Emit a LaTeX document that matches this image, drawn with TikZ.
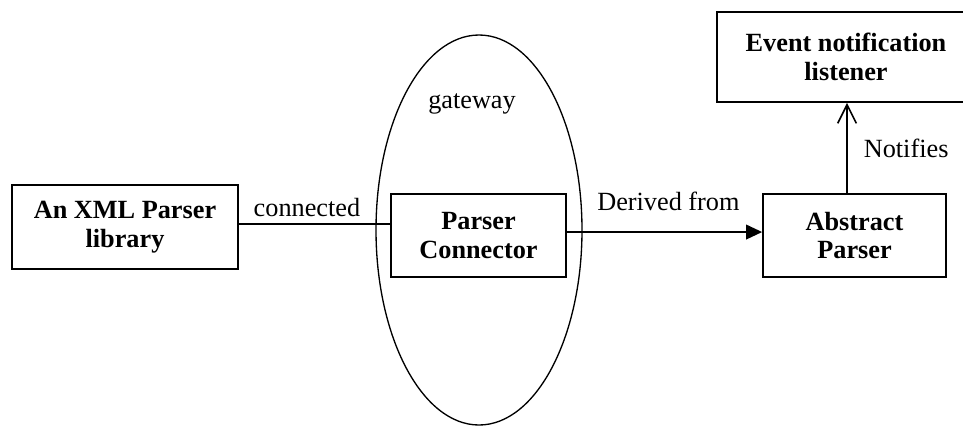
\documentclass[tikz,border=0pt]{standalone}
\usepackage{fontspec}
\setmainfont{Liberation Serif}
\usetikzlibrary{arrows.meta,shapes.geometric}
\begin{document}
\begin{tikzpicture}[x=0.75pt,y=-0.75pt,
  every node/.style={font=\fontsize{19.7}{21.5}\selectfont},
  box/.style={draw,line width=1.3pt,align=center,inner sep=0pt,
    font=\fontsize{19.7}{21.5}\selectfont\bfseries},
  conn/.style={line width=1.2pt},
  lbl/.style={inner sep=0pt}]
\useasboundingbox (0,0) rectangle (963,426);
\node[draw,ellipse,line width=1pt,inner sep=0pt,minimum width=154.5pt,minimum height=292.5pt] (gw) at (479,230) {};
\node[lbl] (gwl) at (472,104) {gateway};
\node[box,minimum width=169.5pt,minimum height=63pt] (lib) at (125,227) {An XML Parser\\library};
\node[box,minimum width=131.25pt,minimum height=62.25pt] (pc) at (478.5,235.5) {Parser\\Connector};
\node[box,minimum width=137.25pt,minimum height=62.25pt] (ap) at (854.5,235.5) {Abstract\\Parser};
\node[box,minimum width=193.5pt,minimum height=67.5pt] (ev) at (846,57) {Event notification\\listener};
\coordinate (c1) at ([yshift=2.25pt]lib.east);
\draw[conn] (c1) -- (c1 -| pc.west)
  node[pos=0.45,above,lbl,yshift=4.5pt] {connected};
\coordinate (c2) at ([yshift=2.6pt]pc.east);
\draw[conn,-{Triangle[length=12pt,width=11pt]}] (c2) -- (c2 -| ap.west)
  node[pos=0.52,above,lbl,yshift=15.5pt] {Derived from};
\coordinate (c3) at ([xshift=-5.6pt]ap.north);
\draw[conn,-{Straight Barb[length=14pt,width=14pt,line width=1.2pt]}] (c3) -- (c3 |- ev.south)
  node[midway,right,lbl,xshift=12pt] {Notifies};
\end{tikzpicture}
\end{document}
